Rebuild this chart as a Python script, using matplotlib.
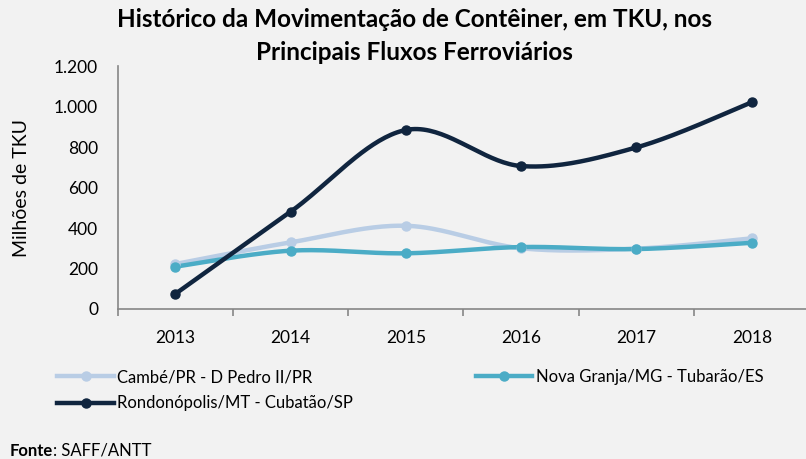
import numpy as np
import matplotlib.pyplot as plt
from matplotlib.ticker import FuncFormatter

anos = ["2013", "2014", "2015", "2016", "2017", "2018"]
cambe = [222, 329, 411, 300, 298, 349]
nova_granja = [209, 288, 275, 306, 296, 327]
rondonopolis = [74, 480, 884, 706, 798, 1021]

series = [
    ("Cambé/PR - D Pedro II/PR", cambe, "#B9CDE5"),
    ("Nova Granja/MG - Tubarão/ES", nova_granja, "#4BACC6"),
    ("Rondonópolis/MT - Cubatão/SP", rondonopolis, "#10253F"),
]

plt.rcParams["font.family"] = ["Lato", "DejaVu Sans"]
BG = "#F2F2F2"


def suavizar(x, y, n=40):
    # curva suavizada (bezier tipo Catmull-Rom, como no Excel)
    p = np.column_stack([x, y]).astype(float)
    out = []
    for i in range(len(p) - 1):
        p0 = p[i - 1] if i > 0 else p[i]
        p1, p2 = p[i], p[i + 1]
        p3 = p[i + 2] if i + 2 < len(p) else p[i + 1]
        c1 = p1 + (p2 - p0) / 6
        c2 = p2 - (p3 - p1) / 6
        t = np.linspace(0, 1, n)[:, None]
        seg = ((1 - t) ** 3) * p1 + 3 * ((1 - t) ** 2) * t * c1 + 3 * (1 - t) * t ** 2 * c2 + t ** 3 * p2
        out.append(seg if i == 0 else seg[1:])
    out = np.vstack(out)
    return out[:, 0], out[:, 1]


fig = plt.figure(figsize=(8.06, 4.59), dpi=100, facecolor=BG)
ax = fig.add_axes([0.1458, 0.3268, 0.8585, 0.5294])
ax.set_facecolor(BG)

x = np.arange(len(anos))
handles = {}
for nome, vals, cor in series:
    xs, ys = suavizar(x, vals)
    ax.plot(xs, ys, color=cor, lw=3.2, solid_capstyle="round", zorder=2)
    ax.plot(x, vals, "o", color=cor, ms=6.5, zorder=3)
    h, = ax.plot([], [], color=cor, lw=3.2, marker="o", ms=6.5)
    handles[nome] = h

ax.set_xlim(-0.5, len(anos) - 0.5)
ax.set_ylim(0, 1200)
ax.set_yticks(range(0, 1201, 200))
ax.yaxis.set_major_formatter(FuncFormatter(lambda v, _: f"{int(v):,}".replace(",", ".")))
ax.tick_params(axis="y", length=0, labelsize=12.5, pad=14, colors="#000000")

# marcas entre categorias, rótulos no centro
ax.set_xticks(np.arange(-0.5, len(anos), 1))
ax.set_xticklabels([])
ax.set_xticks(x, minor=True)
ax.set_xticklabels(anos, minor=True)
ax.tick_params(axis="x", which="major", length=5, width=1.2, color="#868686", direction="out")
ax.tick_params(axis="x", which="minor", length=0, labelsize=12.5, pad=15)

for s in ("top", "right"):
    ax.spines[s].set_visible(False)
for s in ("left", "bottom"):
    ax.spines[s].set_color("#868686")
    ax.spines[s].set_linewidth(1.2)

ax.set_ylabel("Milhões de TKU", fontsize=14, labelpad=17)

fig.text(0.514, 0.957, "Histórico da Movimentação de Contêiner, em TKU, nos",
         ha="center", va="center", fontsize=17.5, fontweight="bold")
fig.text(0.514, 0.885, "Principais Fluxos Ferroviários",
         ha="center", va="center", fontsize=17.5, fontweight="bold")

col1 = ["Cambé/PR - D Pedro II/PR", "Rondonópolis/MT - Cubatão/SP"]
fig.legend([handles[n] for n in col1], col1, loc="upper left",
           bbox_to_anchor=(0.071, 0.196), frameon=False, fontsize=12,
           handlelength=3.4, handletextpad=0.2, labelspacing=0.62,
           borderaxespad=0, borderpad=0)
col2 = ["Nova Granja/MG - Tubarão/ES"]
fig.legend([handles[n] for n in col2], col2, loc="upper left",
           bbox_to_anchor=(0.590, 0.196), frameon=False, fontsize=12,
           handlelength=3.4, handletextpad=0.2, borderaxespad=0, borderpad=0)

fonte = fig.text(0.012, 0.0, "Fonte", fontsize=12, fontweight="bold", va="bottom")
fig.canvas.draw()
bb = fonte.get_window_extent().transformed(fig.transFigure.inverted())
fig.text(bb.x1, 0.0, ": SAFF/ANTT", fontsize=12, va="bottom")

fig.savefig("out.png", dpi=100, facecolor=BG)
